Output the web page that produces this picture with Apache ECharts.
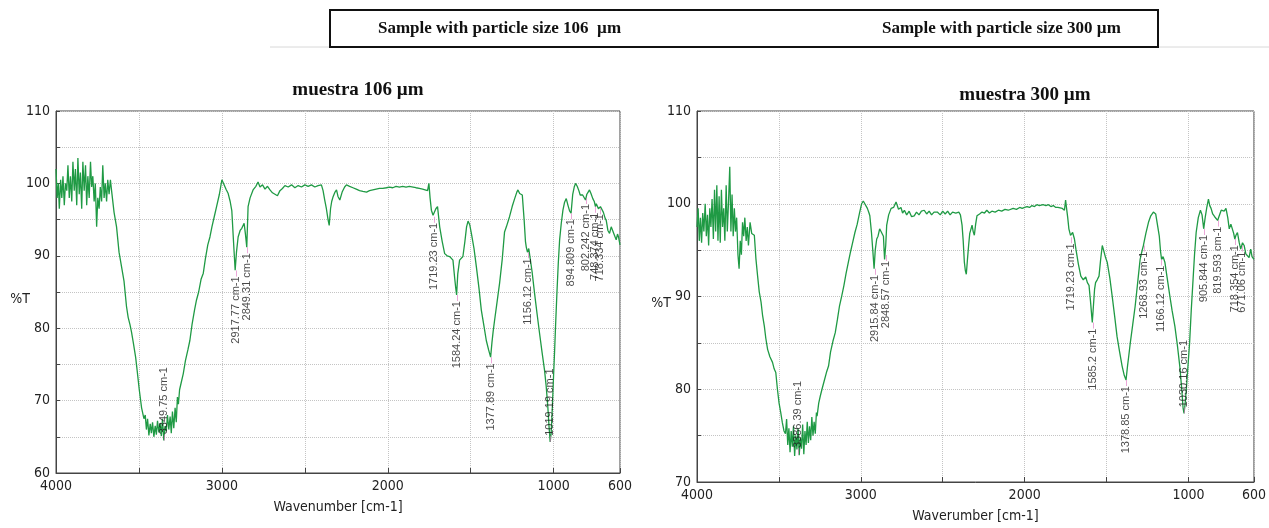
<!DOCTYPE html>
<html>
<head>
<meta charset="utf-8">
<script src="https://cdn.jsdelivr.net/npm/echarts@6/dist/echarts.min.js"></script>
<style>
html,body{margin:0;padding:0;background:#fff;}
#chart{width:1269px;height:528px;}
</style>
</head>
<body>
<div id="chart"></div>
<script>
// ---------- DATA ----------
const headerLabels = ['Sample with particle size 106  µm', 'Sample with particle size 300 µm'];
const chartTitles = ['muestra 106 µm', 'muestra 300 µm'];
const xAxisNames = ['Wavenumber [cm-1]', 'Waverumber [cm-1]'];
const yAxisName = '%T';
const xTickLabels = [4000, 3000, 2000, 1000, 600];

// spectrum, sample 106 µm : [wavenumber, %T]
const spectrum106 = [
[4000,102],[3993,98],[3986,100],[3980,96.5],[3972,100.5],[3965,98],[3958,101],[3950,97],[3943,100],[3935,99],
[3928,102.5],[3920,98],[3913,101],[3905,97.5],[3898,103],[3890,99],[3883,102],[3875,97],[3868,103.5],[3860,98.5],
[3853,101.5],[3845,96.5],[3838,103],[3830,99],[3822,102.5],[3815,97],[3808,101],[3800,98],[3792,103],[3785,99.5],
[3778,101],[3770,97.5],[3763,100],[3755,94],[3748,98],[3740,96.5],[3733,99.5],[3725,97.5],[3718,102.5],[3710,98],
[3703,100],[3695,97.5],[3688,100.5],[3680,98.5],[3672,100.5],[3665,99],
[3650,96],[3635,94],[3620,90.5],[3605,88.5],[3590,86.5],[3575,83],[3565,81.5],[3554,80.5],[3545,79.5],[3534,78],
[3520,76],[3510,74],[3498,71.5],[3484,69],[3470,67.5],
[3462,68],[3455,66],[3448,67.5],[3440,65.2],[3432,66.8],[3425,65.5],[3418,67],[3410,65],[3402,66.5],[3395,65.3],
[3388,67.2],[3380,65.6],[3372,66.9],[3365,65.1],[3358,67.5],[3350,64.5],[3342,66.5],[3335,65.8],[3328,68],[3320,66],
[3312,67.8],[3305,65.5],[3298,68.5],[3290,66.2],[3282,69],[3275,67],[3268,70.5],[3262,69.5],[3255,71.5],[3245,72.5],
[3233,73.7],[3220,75.5],[3205,77],[3193,78.3],[3180,80.5],[3165,82.5],[3153,83.9],[3140,85],[3125,86.8],[3112,87.6],
[3100,89.5],[3085,91.5],[3072,92.6],[3060,94],[3045,95.5],[3032,96.8],[3015,98.5],[3000,100.5],[2990,100],[2975,99.2],
[2962,98.6],[2950,97.5],[2940,96.2],[2930,92],[2920,88],[2912,90.5],[2902,92.6],[2890,93.5],[2880,93.8],[2866,94.5],
[2858,93],[2850,91.2],[2842,96.8],[2830,98],[2812,99.1],[2795,99.6],[2782,100.2],[2770,99.5],[2755,99.8],[2740,99.2],
[2725,99.6],[2710,99.1],[2695,98.7],[2680,98.5],[2665,98.3],[2650,99],[2635,99.3],[2620,99.7],[2600,99.5],[2580,99.8],
[2560,99.4],[2540,99.7],[2520,99.5],[2500,99.8],[2480,99.6],[2460,99.8],[2440,99.5],[2420,99.7],[2400,99.8],[2390,99],
[2380,97.7],[2370,96.5],[2360,95],[2353,94.2],[2345,96.5],[2338,97.5],[2329,98.2],[2318,98.8],[2309,99.1],[2300,98.2],
[2289,97.7],[2275,98.8],[2260,99.5],[2249,99.8],[2230,99.6],[2210,99.4],[2190,99.2],[2170,99],[2150,98.9],[2128,98.8],
[2110,99],[2090,99.1],[2070,99.2],[2050,99.3],[2030,99.3],[2008,99.4],[1990,99.5],[1970,99.4],[1950,99.6],[1930,99.5],
[1910,99.6],[1890,99.5],[1870,99.6],[1847,99.5],[1830,99.4],[1810,99.3],[1790,99.2],[1775,99.1],[1760,99],[1752,100],
[1745,98],[1737,96.3],[1727,95.6],[1719,95.4],[1710,96.5],[1700,96.8],[1687,94],[1672,92],[1657,90.3],[1642,90],
[1627,89.9],[1615,89.8],[1607,89.4],[1597,87],[1590,85.5],[1585,84.6],[1578,87.5],[1567,89.4],[1557,89.2],[1547,89.9],
[1535,92],[1525,94],[1516,94.8],[1506,94.3],[1496,93.1],[1480,91],[1466,88.5],[1450,85.5],[1436,82.5],[1420,80.3],
[1406,78.3],[1392,77],[1380,76],[1372,78],[1365,79.5],[1356,81.1],[1340,83.8],[1326,86.2],[1310,89.5],[1296,93.3],
[1285,94],[1266,95.4],[1250,96.8],[1235,97.9],[1222,98.8],[1215,99.1],[1205,98.6],[1195,98.8],[1189,98.4],[1178,95],
[1170,92],[1165,91.2],[1158,90.5],[1150,91],[1145,90.8],[1130,87.8],[1115,84.8],[1100,82],[1085,79.3],[1070,76.7],
[1055,74.2],[1045,72],[1035,69.1],[1028,66.5],[1021,64.3],[1015,65.5],[1008,69],[1000,73.7],[994,77],[988,80.6],
[980,85],[972,89],[964,92.2],[954,94.5],[944,96.3],[934,97.4],[924,97.9],[914,97],[904,96.2],[895,95.9],
[885,98.5],[876,99.5],[868,100],[858,99.6],[848,99],[840,98.4],[834,98.6],[825,98.4],[816,98.2],[808,97.7],
[800,98.5],[792,98.8],[784,99.1],[775,98.6],[764,97.9],[755,97.5],[748,96.8],[743,97.2],[730,96.5],[718,96.8],
[713,96.6],[700,96],[690,95.2],[683,94.9],[673,93.5],[663,93.1],[653,94],[643,93.8],[633,92.8],[623,92.2],
[615,93],[609,92.6],[600,91.5]
];

// spectrum, sample 300 µm : [wavenumber, %T]
const spectrum300 = [
[4000,97.5],[3993,99.5],[3986,96],[3979,98.5],[3972,95.8],[3965,99],[3958,97],[3950,100],[3943,96.5],[3936,98.8],
[3929,95.5],[3922,99.5],[3915,97.5],[3908,100.5],[3900,96.2],[3893,101.5],[3886,97],[3879,102],[3872,96],[3865,100.8],
[3858,95.8],[3851,101.5],[3844,97.5],[3837,99.5],[3830,96],[3822,102],[3815,97],[3808,100],[3800,104],[3793,97],
[3786,101],[3779,96.5],[3772,99.5],[3765,97],[3758,98.5],[3750,94.5],[3743,93],[3736,96],[3729,94.5],[3722,98],
[3715,96.5],[3708,98.5],[3700,96],[3693,97.5],[3686,95.5],[3676,98],[3666,96.8],
[3650,96.6],[3640,94],[3630,92.2],[3620,90.5],[3609,89.4],[3600,88],[3589,86.8],[3580,85.5],[3569,84.3],[3555,83.5],
[3539,82.9],[3529,82.2],[3519,81.8],[3509,80],[3499,78.5],[3489,77.5],[3479,76.4],[3469,75.5],
[3460,75.2],[3453,76.8],[3446,74],[3439,75.8],[3432,73.2],[3425,75.5],[3418,73.8],[3411,76],[3404,72.8],[3397,75],
[3390,73.5],[3383,75.8],[3376,72.9],[3369,74.8],[3362,73.6],[3355,76.2],[3348,73],[3341,75.5],[3334,74],[3327,76.5],
[3320,74.2],[3313,76],[3306,74.5],[3299,77],[3292,75],[3285,76.5],[3278,75.2],[3271,77.5],
[3267,77.1],[3257,78.5],[3247,79.3],[3237,80],[3222,81],[3210,81.8],[3197,82.5],[3185,84],[3170,85.2],[3156,86.1],
[3143,87.5],[3130,89],[3116,90.1],[3103,91.2],[3090,92.5],[3076,93.7],[3063,94.8],[3050,95.8],[3036,96.9],[3022,97.8],
[3008,99],[2995,100],[2985,100.3],[2975,100.2],[2960,99.5],[2950,99],[2945,98.7],[2935,96.9],[2927,95],[2919,93],
[2912,95],[2903,96.2],[2895,96.5],[2885,97.3],[2875,97.3],[2862,96.5],[2855,94],[2848,95.5],[2842,97.7],[2830,98.8],
[2815,99.5],[2800,99.6],[2785,100.2],[2770,99.4],[2755,99.6],[2745,99],[2734,99.3],[2720,98.8],[2705,99.2],[2690,98.6],
[2674,98.7],[2660,99.1],[2645,98.8],[2630,99.2],[2613,99.3],[2598,98.9],[2583,99.2],[2568,98.8],[2553,99.1],[2533,99.1],
[2515,98.8],[2500,99.2],[2485,98.9],[2470,99.2],[2455,98.8],[2440,99.1],[2420,99],[2402,99.1],[2392,98.8],[2382,97.7],
[2375,96],[2368,93.7],[2362,92.8],[2356,92.4],[2349,94],[2342,95.5],[2335,96.8],[2321,97.7],[2314,97],[2307,96.6],
[2299,97.8],[2291,98.7],[2275,98.9],[2260,99.1],[2245,99],[2231,99.3],[2215,99],[2200,99.2],[2180,99.1],[2160,99.3],
[2140,99.2],[2120,99.4],[2100,99.3],[2090,99.3],[2070,99.5],[2050,99.4],[2030,99.6],[2015,99.5],[2000,99.6],[1985,99.7],
[1970,99.6],[1955,99.8],[1940,99.7],[1925,99.9],[1910,99.8],[1888,99.9],[1870,99.8],[1855,99.9],[1840,99.7],[1825,99.8],
[1810,99.6],[1797,99.6],[1785,99.4],[1770,99.5],[1757,99.3],[1750,100.4],[1744,99.5],[1737,98.5],[1730,97.3],[1720,96.6],
[1716,96.4],[1707,96.9],[1696,96.2],[1687,95.1],[1672,93.5],[1657,92.2],[1642,91.8],[1627,92.1],[1617,91.5],[1607,91.2],
[1598,89.5],[1590,87.8],[1587,87.2],[1580,89],[1573,90.8],[1567,91.5],[1557,91.8],[1546,92.2],[1536,94],[1526,95.5],
[1515,94.8],[1506,94.2],[1496,93.7],[1480,92],[1466,90.1],[1450,87.8],[1436,85.7],[1420,84],[1405,82.5],[1392,81.5],
[1381,81],[1372,82.5],[1365,83.5],[1355,85],[1340,87],[1325,89],[1310,91.5],[1295,94],[1285,94.8],[1275,95.5],
[1260,96.8],[1244,98],[1230,98.7],[1214,99.1],[1200,98.9],[1188,98.7],[1178,96.5],[1170,94.8],[1164,94],[1155,94.3],
[1144,93.7],[1130,92],[1114,90.1],[1100,88.5],[1083,86.8],[1068,84.8],[1053,82.5],[1040,79.8],[1033,78],[1027,77.4],
[1020,78.5],[1013,80],[1003,82.5],[993,85],[983,88.5],[973,91.5],[963,94.5],[953,96.9],[940,98.5],[927,99.3],
[917,98.8],[907,97.3],[898,98.5],[888,99.6],[878,100.5],[870,99.8],[862,99.5],[852,98.9],[840,98.6],[830,98.4],
[822,98.2],[812,98.7],[800,99.3],[792,99.5],[782,99.2],[771,99.5],[760,98.5],[751,97.3],[741,97.8],[731,97.7],
[724,96.8],[717,96.2],[710,96.6],[701,96.9],[690,95.8],[681,95.1],[670,95.8],[660,95.5],[650,94.6],[640,94.8],
[630,94.2],[620,95.1],[612,94.3],[604,94.4],[600,94]
];

// peak annotations
const peaks106Wn = [3349.75, 2917.77, 2849.31, 1719.23, 1584.24, 1377.89, 1156.12, 1019.19, 894.809, 802.242, 748.374, 718.334];
const peaks106T  = [64.5, 88, 91.2, 95.4, 84.6, 76, 90.5, 64.3, 95.9, 98, 96.8, 96.6];
const peaks106Label = ['3349.75 cm-1','2917.77 cm-1','2849.31 cm-1','1719.23 cm-1','1584.24 cm-1','1377.89 cm-1','1156.12 cm-1','1019.19 cm-1','894.809 cm-1','802.242 cm-1','748.374 cm-1','718.334 cm-1'];

const peaks300Wn = [3386.39, 2915.84, 2848.57, 1719.23, 1585.2, 1378.85, 1268.93, 1166.12, 1030.16, 905.844, 819.593, 718.354, 671.06];
const peaks300T  = [73, 93, 94.5, 96.4, 87.2, 81, 95.5, 94, 77.4, 97.3, 98.2, 96.2, 95.5];
const peaks300Label = ['3386.39 cm-1','2915.84 cm-1','2848.57 cm-1','1719.23 cm-1','1585.2 cm-1','1378.85 cm-1','1268.93 cm-1','1166.12 cm-1','1030.16 cm-1','905.844 cm-1','819.593 cm-1','718.354 cm-1','671.06 cm-1'];

const yRanges = [[60, 110], [70, 110]];

// ---------- CHART ----------
const axisFont = '"Liberation Sans Narrow", "DejaVu Sans Condensed", "Liberation Sans", sans-serif';
const serif = '"Liberation Serif", "DejaVu Serif", serif';
const chart = echarts.init(document.getElementById('chart'));

function xAxisDef(i) {
  return {
    type: 'value', gridIndex: i, min: 600, max: 4000, inverse: true, splitNumber: 7,
    axisLine: {show: true, lineStyle: {color: '#444', width: 1}},
    axisTick: {show: true, inside: true, length: 5, lineStyle: {color: '#444'}},
    axisLabel: {
      showMinLabel: true, showMaxLabel: true, color: '#222', fontSize: 14, fontFamily: axisFont, margin: 6,
      formatter: v => xTickLabels.indexOf(v) >= 0 ? String(v) : ''
    },
    splitLine: {show: true, lineStyle: {color: '#c4c4c4', type: 'dotted', width: 1}},
    name: xAxisNames[i], nameLocation: 'middle', nameGap: 27,
    nameTextStyle: {color: '#222', fontSize: 14, fontFamily: axisFont}
  };
}
function yAxisDef(i) {
  return {
    type: 'value', gridIndex: i, min: yRanges[i][0], max: yRanges[i][1], interval: 5,
    axisLine: {show: true, lineStyle: {color: '#444', width: 1}},
    axisTick: {show: true, inside: true, length: 4, lineStyle: {color: '#444'}},
    axisLabel: {
      color: '#222', fontSize: 14, fontFamily: axisFont, margin: 6,
      formatter: v => v % 10 === 0 ? String(v) : ''
    },
    splitLine: {show: true, lineStyle: {color: '#c4c4c4', type: 'dotted', width: 1}},
    name: yAxisName, nameLocation: 'middle', nameRotate: 0, nameGap: 36, nameMoveOverlap: false,
    nameTextStyle: {color: '#222', fontSize: 14, fontFamily: axisFont, align: 'center', verticalAlign: 'top'}
  };
}
function peakSeries(i, wns, vals, names) {
  const span = (yRanges[i][1] - yRanges[i][0]) * 0.24;
  const data = wns.map((w, k) => {
    const above = vals[k] - span < yRanges[i][0];
    return {
      value: [w, vals[k]],
      label: {
        show: true, rotate: 90, position: 'inside',
        align: above ? 'left' : 'right', verticalAlign: 'middle',
        formatter: above ? '{tk|–}{t|' + names[k] + '}' : '{t|' + names[k] + '}{tk|–}',
        rich: {
          t: {color: '#1a1a1a', fontSize: 11, fontFamily: '"Liberation Sans", Arial, sans-serif'},
          tk: {color: '#e070c0', fontSize: 11, fontFamily: '"Liberation Sans", Arial, sans-serif'}
        }
      }
    };
  });
  return {
    type: 'scatter', xAxisIndex: i, yAxisIndex: i, data: data,
    symbolSize: 1, itemStyle: {color: 'rgba(0,0,0,0)'}, z: 5, silent: true
  };
}

const option = {
  animation: false,
  backgroundColor: '#fff',
  title: [
    {text: chartTitles[0], left: 353, top: 76, textAlign: 'center',
     textStyle: {fontFamily: serif, fontWeight: 'bold', fontSize: 19, color: '#111'}},
    {text: chartTitles[1], left: 1020, top: 81, textAlign: 'center',
     textStyle: {fontFamily: serif, fontWeight: 'bold', fontSize: 19, color: '#111'}}
  ],
  grid: [
    {left: 56, top: 111, width: 564, height: 362, show: true, borderColor: '#444', borderWidth: 1, backgroundColor: '#fff'},
    {left: 697, top: 111, width: 563, height: 372, show: true, borderColor: '#444', borderWidth: 1, backgroundColor: '#fff'}
  ],
  xAxis: [xAxisDef(0), xAxisDef(1)],
  yAxis: [yAxisDef(0), yAxisDef(1)],
  series: [
    {type: 'line', xAxisIndex: 0, yAxisIndex: 0, data: spectrum106, showSymbol: false, symbol: 'none',
     lineStyle: {color: '#1f9a44', width: 1.3}, z: 3},
    {type: 'line', xAxisIndex: 1, yAxisIndex: 1, data: spectrum300, showSymbol: false, symbol: 'none',
     lineStyle: {color: '#1f9a44', width: 1.3}, z: 3},
    peakSeries(0, peaks106Wn, peaks106T, peaks106Label),
    peakSeries(1, peaks300Wn, peaks300T, peaks300Label)
  ],
  graphic: [
    {type: 'line', shape: {x1: 270, y1: 47, x2: 1269, y2: 47}, style: {stroke: '#d8d8d8', lineWidth: 1}, z: 1},
    {type: 'rect', shape: {x: 330, y: 10, width: 828, height: 37},
     style: {fill: '#fff', stroke: '#111', lineWidth: 2}, z: 2},
    {type: 'text', left: 378, top: 20, z: 3,
     style: {text: headerLabels[0], font: 'bold 17px ' + serif, fill: '#111'}},
    {type: 'text', left: 882, top: 20, z: 3,
     style: {text: headerLabels[1], font: 'bold 17px ' + serif, fill: '#111'}}
  ]
};
chart.setOption(option);
</script>
</body>
</html>
